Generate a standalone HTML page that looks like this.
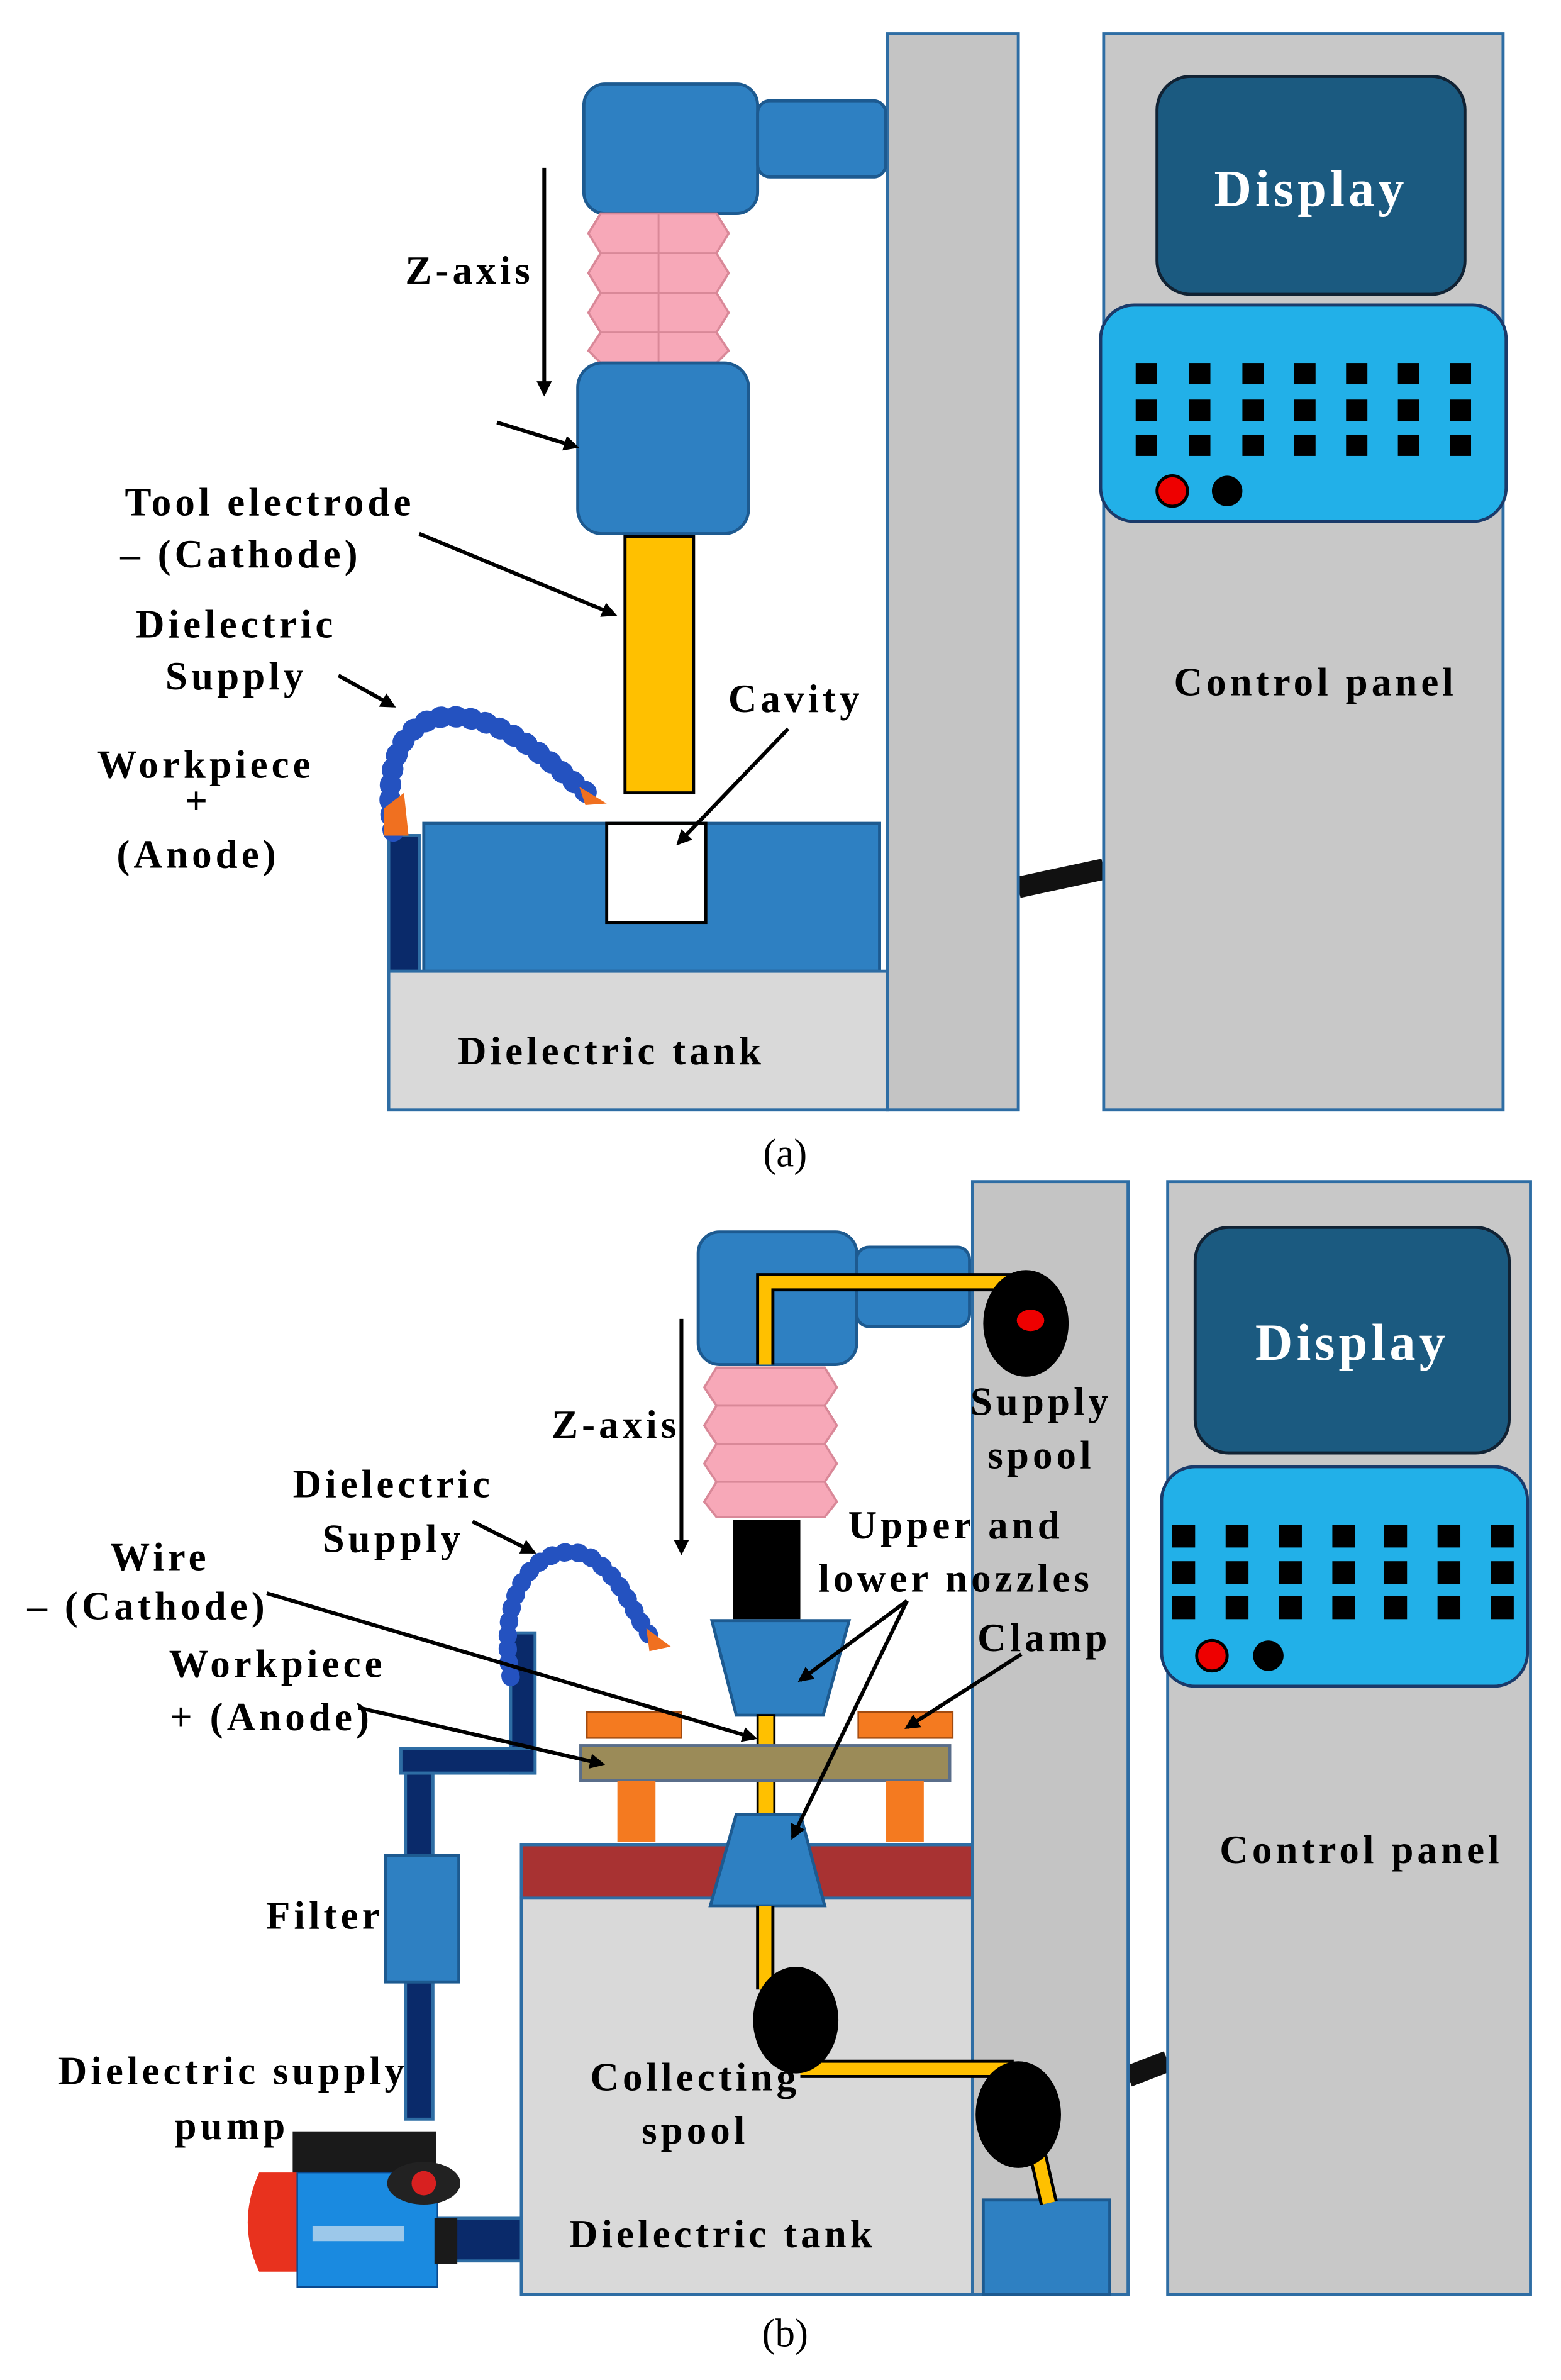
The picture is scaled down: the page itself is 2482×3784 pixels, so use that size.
<!DOCTYPE html>
<html><head><meta charset="utf-8"><style>
html,body{margin:0;padding:0;background:#fff}
svg{display:block}
text{font-family:"Liberation Serif",serif;font-weight:bold;fill:#000;letter-spacing:2.5px}
</style></head><body>
<svg width="2482" height="3784" viewBox="0 0 1024 1561" xmlns="http://www.w3.org/2000/svg">
<defs>
<marker id="ah" markerWidth="10" markerHeight="10" refX="8" refY="5" orient="auto" markerUnits="userSpaceOnUse"><path d="M0,0 L10,5 L0,10 z" fill="#000"/></marker>
</defs>
<rect width="1024" height="1561" fill="#fff"/>

<!-- ===== (a) ===== -->
<line x1="668" y1="582" x2="724" y2="570" stroke="#111" stroke-width="14"/>
<rect x="582" y="22" width="86" height="706" fill="#c4c4c4" stroke="#2e6da4" stroke-width="2"/>
<rect x="724" y="22" width="262" height="706" fill="#c8c8c8" stroke="#2e6da4" stroke-width="2"/>
<rect x="759" y="50" width="202" height="143" rx="22" fill="#1b5a80" stroke="#123" stroke-width="2"/>
<text x="860" y="135" font-size="34" text-anchor="middle" style="fill:#fff">Display</text>
<rect x="722" y="200" width="266" height="142" rx="22" fill="#22b0e8" stroke="#1a3a6a" stroke-width="2"/>
<g fill="#000">
<rect x="745" y="238" width="14" height="14"/><rect x="780" y="238" width="14" height="14"/><rect x="815" y="238" width="14" height="14"/><rect x="849" y="238" width="14" height="14"/><rect x="883" y="238" width="14" height="14"/><rect x="917" y="238" width="14" height="14"/><rect x="951" y="238" width="14" height="14"/>
<rect x="745" y="262" width="14" height="14"/><rect x="780" y="262" width="14" height="14"/><rect x="815" y="262" width="14" height="14"/><rect x="849" y="262" width="14" height="14"/><rect x="883" y="262" width="14" height="14"/><rect x="917" y="262" width="14" height="14"/><rect x="951" y="262" width="14" height="14"/>
<rect x="745" y="285" width="14" height="14"/><rect x="780" y="285" width="14" height="14"/><rect x="815" y="285" width="14" height="14"/><rect x="849" y="285" width="14" height="14"/><rect x="883" y="285" width="14" height="14"/><rect x="917" y="285" width="14" height="14"/><rect x="951" y="285" width="14" height="14"/>
</g>
<circle cx="769" cy="322" r="10" fill="#e00" stroke="#000" stroke-width="2"/>
<circle cx="805" cy="322" r="10" fill="#000"/>
<text x="863" y="456" font-size="26" text-anchor="middle">Control panel</text>

<rect x="383" y="55" width="114" height="85" rx="14" fill="#2e80c2" stroke="#1d5a90" stroke-width="2"/>
<rect x="497" y="66" width="84" height="50" rx="8" fill="#2e80c2" stroke="#1d5a90" stroke-width="2"/>
<path d="M394,140 L470,140 L478,153 L470,166 L478,179 L470,192 L478,205 L470,218 L478,230 L470,238 L394,238 L386,230 L394,218 L386,205 L394,192 L386,179 L394,166 L386,153 Z" fill="#f7a8b8" stroke="#d98898" stroke-width="1.5"/>
<g stroke="#d98898" stroke-width="1.2"><line x1="394" y1="166" x2="470" y2="166"/><line x1="394" y1="192" x2="470" y2="192"/><line x1="394" y1="218" x2="470" y2="218"/><line x1="432" y1="140" x2="432" y2="238"/></g>
<rect x="379" y="238" width="112" height="112" rx="16" fill="#2e80c2" stroke="#1d5a90" stroke-width="2"/>
<rect x="410" y="352" width="45" height="168" fill="#ffc000" stroke="#000" stroke-width="2"/>
<rect x="278" y="540" width="299" height="97" fill="#2e80c2" stroke="#1d5a90" stroke-width="2"/>
<rect x="398" y="540" width="65" height="65" fill="#fff" stroke="#000" stroke-width="2"/>
<rect x="255" y="548" width="20" height="89" fill="#0a2a6a" stroke="#2e6da4" stroke-width="2"/>
<rect x="255" y="637" width="327" height="91" fill="#d9d9d9" stroke="#2e6da4" stroke-width="2"/>
<text x="401" y="698" font-size="26" text-anchor="middle">Dielectric tank</text>
<path d="M258,545 C250,500 265,470 295,470 C335,470 365,505 385,520" fill="none" stroke="#2452c0" stroke-width="14" stroke-dasharray="1 9" stroke-linecap="round"/>
<path d="M380,516 L398,527 L384,528 Z" fill="#f07020"/>
<path d="M252,530 L265,520 L268,548 L252,548 Z" fill="#f07020"/>

<line x1="357" y1="110" x2="357" y2="258" stroke="#000" stroke-width="2.5" marker-end="url(#ah)"/>
<text x="308" y="186" font-size="26" text-anchor="middle">Z-axis</text>
<line x1="326" y1="277" x2="378" y2="293" stroke="#000" stroke-width="2.5" marker-end="url(#ah)"/>
<text x="177" y="338" font-size="26" text-anchor="middle">Tool electrode</text>
<text x="158" y="372" font-size="26" text-anchor="middle">– (Cathode)</text>
<line x1="275" y1="350" x2="403" y2="403" stroke="#000" stroke-width="2.5" marker-end="url(#ah)"/>
<text x="155" y="418" font-size="26" text-anchor="middle">Dielectric</text>
<text x="155" y="452" font-size="26" text-anchor="middle">Supply</text>
<line x1="222" y1="443" x2="258" y2="463" stroke="#000" stroke-width="2.5" marker-end="url(#ah)"/>
<text x="135" y="510" font-size="26" text-anchor="middle">Workpiece</text>
<text x="130" y="534" font-size="26" text-anchor="middle">+</text>
<text x="130" y="569" font-size="26" text-anchor="middle">(Anode)</text>
<text x="522" y="467" font-size="26" text-anchor="middle">Cavity</text>
<line x1="517" y1="478" x2="445" y2="553" stroke="#000" stroke-width="2.5" marker-end="url(#ah)"/>
<text x="515" y="765" font-size="26" text-anchor="middle" style="font-weight:normal;letter-spacing:0">(a)</text>

<!-- ===== (b) ===== -->
<line x1="740" y1="1362" x2="766" y2="1352" stroke="#111" stroke-width="14"/>
<rect x="638" y="775" width="102" height="730" fill="#c4c4c4" stroke="#2e6da4" stroke-width="2"/>
<rect x="766" y="775" width="238" height="730" fill="#c8c8c8" stroke="#2e6da4" stroke-width="2"/>
<rect x="784" y="805" width="206" height="148" rx="22" fill="#1b5a80" stroke="#123" stroke-width="2"/>
<text x="887" y="892" font-size="34" text-anchor="middle" style="fill:#fff">Display</text>
<rect x="762" y="962" width="240" height="144" rx="22" fill="#22b0e8" stroke="#1a3a6a" stroke-width="2"/>
<g fill="#000">
<rect x="769" y="1000" width="15" height="15"/><rect x="804" y="1000" width="15" height="15"/><rect x="839" y="1000" width="15" height="15"/><rect x="874" y="1000" width="15" height="15"/><rect x="908" y="1000" width="15" height="15"/><rect x="943" y="1000" width="15" height="15"/><rect x="978" y="1000" width="15" height="15"/>
<rect x="769" y="1024" width="15" height="15"/><rect x="804" y="1024" width="15" height="15"/><rect x="839" y="1024" width="15" height="15"/><rect x="874" y="1024" width="15" height="15"/><rect x="908" y="1024" width="15" height="15"/><rect x="943" y="1024" width="15" height="15"/><rect x="978" y="1024" width="15" height="15"/>
<rect x="769" y="1047" width="15" height="15"/><rect x="804" y="1047" width="15" height="15"/><rect x="839" y="1047" width="15" height="15"/><rect x="874" y="1047" width="15" height="15"/><rect x="908" y="1047" width="15" height="15"/><rect x="943" y="1047" width="15" height="15"/><rect x="978" y="1047" width="15" height="15"/>
</g>
<circle cx="795" cy="1086" r="10" fill="#e00" stroke="#000" stroke-width="2"/>
<circle cx="832" cy="1086" r="10" fill="#000"/>
<text x="893" y="1222" font-size="26" text-anchor="middle">Control panel</text>

<rect x="458" y="808" width="104" height="87" rx="14" fill="#2e80c2" stroke="#1d5a90" stroke-width="2"/>
<rect x="562" y="818" width="74" height="52" rx="8" fill="#2e80c2" stroke="#1d5a90" stroke-width="2"/>
<path d="M470,897 L541,897 L549,910 L541,922 L549,935 L541,947 L549,960 L541,972 L549,985 L541,995 L470,995 L462,985 L470,972 L462,960 L470,947 L462,935 L470,922 L462,910 Z" fill="#f7a8b8" stroke="#d98898" stroke-width="1.5"/>
<g stroke="#d98898" stroke-width="1.2"><line x1="470" y1="922" x2="541" y2="922"/><line x1="470" y1="947" x2="541" y2="947"/><line x1="470" y1="972" x2="541" y2="972"/></g>
<rect x="481" y="997" width="44" height="65" fill="#000"/>
<path d="M502,895 L502,841 L670,841" fill="none" stroke="#000" stroke-width="12"/>
<path d="M502,895 L502,841 L670,841" fill="none" stroke="#ffc000" stroke-width="8"/>
<ellipse cx="673" cy="868" rx="28" ry="35" fill="#000"/>
<ellipse cx="676" cy="866" rx="9" ry="7" fill="#e00"/>
<path d="M467,1063 L557,1063 L540,1125 L483,1125 Z" fill="#2e80c2" stroke="#1d5a90" stroke-width="2"/>
<rect x="497" y="1125" width="11" height="165" fill="#ffc000" stroke="#000" stroke-width="1.5"/>
<rect x="385" y="1123" width="62" height="17" fill="#f47a20" stroke="#a04a10" stroke-width="1"/>
<rect x="563" y="1123" width="62" height="17" fill="#f47a20" stroke="#a04a10" stroke-width="1"/>
<rect x="381" y="1145" width="242" height="23" fill="#9b8b58" stroke="#5a6e8a" stroke-width="2"/>
<rect x="405" y="1168" width="25" height="40" fill="#f47a20"/>
<rect x="581" y="1168" width="25" height="40" fill="#f47a20"/>
<rect x="342" y="1210" width="296" height="35" fill="#a83232" stroke="#2e6da4" stroke-width="2"/>
<rect x="342" y="1245" width="296" height="260" fill="#d9d9d9" stroke="#2e6da4" stroke-width="2"/>
<path d="M483,1190 L525,1190 L541,1250 L466,1250 Z" fill="#2e80c2" stroke="#1d5a90" stroke-width="2"/>
<rect x="645" y="1443" width="83" height="62" fill="#2e80c2" stroke="#1d5a90" stroke-width="2"/>
<path d="M502,1250 L502,1305 M525,1357 L665,1357 M680,1410 L688,1445" fill="none" stroke="#000" stroke-width="12"/>
<path d="M502,1250 L502,1305 M525,1357 L665,1357 M680,1410 L688,1445" fill="none" stroke="#ffc000" stroke-width="8"/>
<ellipse cx="522" cy="1325" rx="28" ry="35" fill="#000"/>
<ellipse cx="668" cy="1387" rx="28" ry="35" fill="#000"/>

<g fill="#0a2a6a" stroke="#2e6da4" stroke-width="2">
<rect x="335" y="1071" width="16" height="92"/>
<rect x="263" y="1147" width="88" height="16"/>
<rect x="266" y="1163" width="18" height="55"/>
<rect x="266" y="1300" width="18" height="90"/>
<rect x="285" y="1455" width="57" height="28"/>
</g>
<rect x="253" y="1217" width="48" height="83" fill="#2e80c2" stroke="#1d5a90" stroke-width="2"/>
<path d="M335,1100 C325,1040 355,1010 385,1020 C410,1035 415,1060 428,1075" fill="none" stroke="#2452c0" stroke-width="12" stroke-dasharray="1 8" stroke-linecap="round"/>
<path d="M424,1068 L440,1080 L426,1083 Z" fill="#f07020"/>
<rect x="192" y="1398" width="94" height="30" fill="#1a1a1a"/>
<path d="M170,1425 L200,1425 L200,1490 L170,1490 Q155,1458 170,1425 Z" fill="#e8321e"/>
<rect x="195" y="1425" width="92" height="75" fill="#1a8ae0" stroke="#0a4a90" stroke-width="1"/>
<rect x="205" y="1460" width="60" height="10" fill="#9cc8ea"/>
<ellipse cx="278" cy="1432" rx="24" ry="14" fill="#222"/>
<circle cx="278" cy="1432" r="8" fill="#d82020"/>
<rect x="285" y="1455" width="15" height="30" fill="#1a1a1a"/>

<line x1="447" y1="865" x2="447" y2="1018" stroke="#000" stroke-width="2.5" marker-end="url(#ah)"/>
<text x="404" y="943" font-size="26" text-anchor="middle">Z-axis</text>
<text x="258" y="982" font-size="26" text-anchor="middle">Dielectric</text>
<text x="258" y="1018" font-size="26" text-anchor="middle">Supply</text>
<line x1="310" y1="998" x2="350" y2="1018" stroke="#000" stroke-width="2.5" marker-end="url(#ah)"/>
<text x="105" y="1030" font-size="26" text-anchor="middle">Wire</text>
<text x="97" y="1062" font-size="26" text-anchor="middle">– (Cathode)</text>
<line x1="175" y1="1045" x2="495" y2="1140" stroke="#000" stroke-width="2.5" marker-end="url(#ah)"/>
<text x="182" y="1100" font-size="26" text-anchor="middle">Workpiece</text>
<text x="178" y="1135" font-size="26" text-anchor="middle">+ (Anode)</text>
<line x1="235" y1="1120" x2="395" y2="1157" stroke="#000" stroke-width="2.5" marker-end="url(#ah)"/>
<text x="683" y="928" font-size="26" text-anchor="middle">Supply</text>
<text x="683" y="963" font-size="26" text-anchor="middle">spool</text>
<text x="627" y="1009" font-size="26" text-anchor="middle">Upper and</text>
<text x="627" y="1044" font-size="26" text-anchor="middle">lower nozzles</text>
<line x1="595" y1="1050" x2="525" y2="1102" stroke="#000" stroke-width="2.5" marker-end="url(#ah)"/>
<line x1="595" y1="1050" x2="520" y2="1205" stroke="#000" stroke-width="2.5" marker-end="url(#ah)"/>
<text x="685" y="1083" font-size="26" text-anchor="middle">Clamp</text>
<line x1="670" y1="1085" x2="595" y2="1133" stroke="#000" stroke-width="2.5" marker-end="url(#ah)"/>
<text x="213" y="1265" font-size="26" text-anchor="middle">Filter</text>
<text x="153" y="1367" font-size="26" text-anchor="middle">Dielectric supply</text>
<text x="152" y="1403" font-size="26" text-anchor="middle">pump</text>
<text x="456" y="1371" font-size="26" text-anchor="middle">Collecting</text>
<text x="456" y="1406" font-size="26" text-anchor="middle">spool</text>
<text x="474" y="1474" font-size="26" text-anchor="middle">Dielectric tank</text>
<text x="515" y="1539" font-size="26" text-anchor="middle" style="font-weight:normal;letter-spacing:0">(b)</text>
</svg>
</body></html>
